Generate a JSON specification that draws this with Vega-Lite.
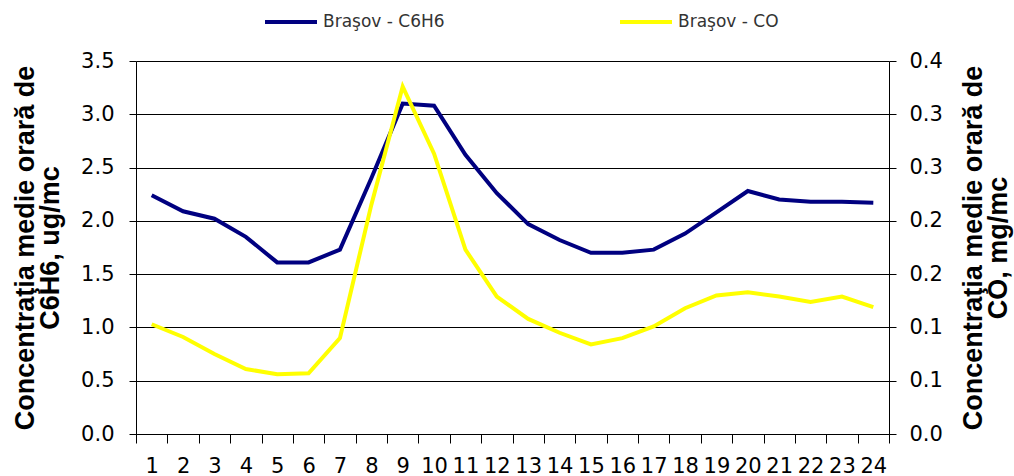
{
  "$schema": "https://vega.github.io/schema/vega-lite/v6.json",
  "width": 753,
  "height": 373,
  "autosize": {"type": "none"},
  "padding": {"left": 136, "top": 61, "right": 125, "bottom": 42},
  "background": "white",
  "config": {
    "view": {"stroke": null},
    "axis": {
      "labelFont": "DejaVu Sans",
      "labelFontSize": 21,
      "labelColor": "black",
      "titleFont": "Liberation Sans",
      "titleFontSize": 27,
      "titleFontWeight": "bold",
      "titleColor": "black",
      "titleLineHeight": 25,
      "domainColor": "black",
      "tickColor": "black",
      "gridColor": "black",
      "gridOpacity": 1
    },
    "legend": {
      "labelFont": "DejaVu Sans",
      "labelFontSize": 17,
      "labelColor": "#333333"
    }
  },
  "data": {
    "values": [
      {"hour": 1, "c6h6": 2.24, "co": 0.103},
      {"hour": 2, "c6h6": 2.09, "co": 0.091},
      {"hour": 3, "c6h6": 2.02, "co": 0.075},
      {"hour": 4, "c6h6": 1.85, "co": 0.061},
      {"hour": 5, "c6h6": 1.61, "co": 0.056},
      {"hour": 6, "c6h6": 1.61, "co": 0.057},
      {"hour": 7, "c6h6": 1.73, "co": 0.090},
      {"hour": 8, "c6h6": 2.40, "co": 0.215},
      {"hour": 9, "c6h6": 3.10, "co": 0.326},
      {"hour": 10, "c6h6": 3.08, "co": 0.263},
      {"hour": 11, "c6h6": 2.62, "co": 0.173},
      {"hour": 12, "c6h6": 2.26, "co": 0.129},
      {"hour": 13, "c6h6": 1.97, "co": 0.108},
      {"hour": 14, "c6h6": 1.82, "co": 0.095},
      {"hour": 15, "c6h6": 1.70, "co": 0.084},
      {"hour": 16, "c6h6": 1.70, "co": 0.090},
      {"hour": 17, "c6h6": 1.73, "co": 0.101},
      {"hour": 18, "c6h6": 1.88, "co": 0.118},
      {"hour": 19, "c6h6": 2.08, "co": 0.130},
      {"hour": 20, "c6h6": 2.28, "co": 0.133},
      {"hour": 21, "c6h6": 2.20, "co": 0.129},
      {"hour": 22, "c6h6": 2.18, "co": 0.124},
      {"hour": 23, "c6h6": 2.18, "co": 0.129},
      {"hour": 24, "c6h6": 2.17, "co": 0.119}
    ]
  },
  "encoding": {
    "x": {
      "field": "hour",
      "type": "ordinal",
      "scale": {"type": "band", "paddingInner": 0, "paddingOuter": 0},
      "axis": {
        "title": null,
        "labelAngle": 0,
        "tickBand": "extent",
        "tickSize": 9,
        "labelPadding": 12,
        "grid": false,
        "labelOverlap": false
      }
    }
  },
  "layer": [
    {
      "mark": {"type": "line", "strokeWidth": 4},
      "encoding": {
        "y": {
          "field": "c6h6",
          "type": "quantitative",
          "scale": {"domain": [0, 3.5], "nice": false, "zero": true},
          "axis": {
            "title": ["Concentraţia medie orară de", "C6H6, ug/mc"],
            "values": [0, 0.5, 1, 1.5, 2, 2.5, 3, 3.5],
            "format": ".1f",
            "grid": true,
            "tickSize": 7,
            "labelPadding": 15,
            "titlePadding": 16
          }
        },
        "color": {
          "datum": "Braşov - C6H6",
          "scale": {"domain": ["Braşov - C6H6", "Braşov - CO"], "range": ["#000080", "#FFFF00"]},
          "legend": {
            "title": null,
            "orient": "none",
            "legendX": 127,
            "legendY": -67,
            "direction": "horizontal",
            "symbolType": "stroke",
            "symbolSize": 2704,
            "symbolStrokeWidth": 4,
            "labelOffset": 4,
            "columnPadding": 167
          }
        }
      }
    },
    {
      "mark": {"type": "line", "strokeWidth": 4},
      "encoding": {
        "y": {
          "field": "co",
          "type": "quantitative",
          "scale": {"domain": [0, 0.35], "nice": false, "zero": true},
          "axis": {
            "orient": "right",
            "title": ["Concentraţia medie orară de", "CO, mg/mc"],
            "titleAngle": 270,
            "values": [0, 0.05, 0.1, 0.15, 0.2, 0.25, 0.3, 0.35],
            "labelExpr": "format(datum.value + 0.000001, '.1f')",
            "grid": false,
            "tickSize": 7,
            "labelPadding": 13,
            "titlePadding": 20
          }
        },
        "color": {"datum": "Braşov - CO"}
      }
    }
  ],
  "resolve": {"scale": {"y": "independent"}}
}
